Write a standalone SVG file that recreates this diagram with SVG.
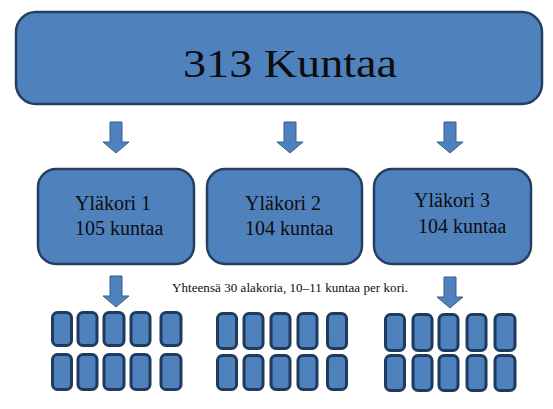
<svg xmlns="http://www.w3.org/2000/svg" width="553" height="409" viewBox="0 0 553 409">
<style>
.box{fill:#4F81BD;stroke:#243F60;stroke-width:2.5}
.sub{fill:#4F81BD;stroke:#1F3A5F;stroke-width:3}
.arr{fill:#4F81BD;stroke:#385D8A;stroke-width:1}
text{font-family:'Liberation Serif','Times New Roman',serif;fill:#0D0D0D}
</style>
<defs>
<path id="arrow" d="M-6,0 H6 V20 H13 L0,31 L-13,20 H-6 Z"/>
</defs>
<rect width="553" height="409" fill="#FFFFFF"/>
<g id="node-top">
<rect class="box" x="16" y="12" width="526" height="92" rx="20"/>
<text x="183" y="77" font-size="41" textLength="214" lengthAdjust="spacingAndGlyphs">313 Kuntaa</text>
</g>
<g id="node-ylakori1">
<rect class="box" x="38" y="169" width="156" height="95" rx="18"/>
<text x="75" y="210" font-size="20">Yläkori 1</text>
<text x="75" y="235" font-size="20">105 kuntaa</text>
</g>
<g id="node-ylakori2">
<rect class="box" x="207" y="169" width="155" height="95" rx="18"/>
<text x="245" y="210" font-size="20">Yläkori 2</text>
<text x="245" y="235" font-size="20">104 kuntaa</text>
</g>
<g id="node-ylakori3">
<rect class="box" x="374" y="169" width="157" height="95" rx="18"/>
<text x="414" y="207" font-size="20">Yläkori 3</text>
<text x="418" y="233" font-size="20">104 kuntaa</text>
</g>
<g id="connectors">
<use href="#arrow" class="arr" x="116" y="122"/>
<use href="#arrow" class="arr" x="290" y="122"/>
<use href="#arrow" class="arr" x="450" y="122"/>
<use href="#arrow" class="arr" x="116" y="276"/>
<use href="#arrow" class="arr" x="450" y="277"/>
</g>
<g id="label-summary">
<text x="172" y="292" font-size="13" textLength="236">Yhteensä 30 alakoria, 10–11 kuntaa per kori.</text>
</g>
<g id="node-alakorit1">
<rect class="sub" x="52.5" y="312.5" width="19" height="33" rx="5"/>
<rect class="sub" x="78" y="312.5" width="19" height="33" rx="5"/>
<rect class="sub" x="104" y="312.5" width="20" height="33" rx="5"/>
<rect class="sub" x="131" y="312.5" width="19" height="33" rx="5"/>
<rect class="sub" x="161" y="312.5" width="20" height="33" rx="5"/>
<rect class="sub" x="52.5" y="354.5" width="19" height="35" rx="5"/>
<rect class="sub" x="78" y="354.5" width="19" height="35" rx="5"/>
<rect class="sub" x="104" y="354.5" width="20" height="35" rx="5"/>
<rect class="sub" x="131" y="354.5" width="19" height="35" rx="5"/>
<rect class="sub" x="161" y="354.5" width="20" height="35" rx="5"/>
</g>
<g id="node-alakorit2">
<rect class="sub" x="217.5" y="313.5" width="19" height="35" rx="5"/>
<rect class="sub" x="244" y="313.5" width="19" height="35" rx="5"/>
<rect class="sub" x="271" y="313.5" width="19" height="35" rx="5"/>
<rect class="sub" x="298" y="313.5" width="19" height="35" rx="5"/>
<rect class="sub" x="327.5" y="313.5" width="19" height="35" rx="5"/>
<rect class="sub" x="217.5" y="355.5" width="19" height="34" rx="5"/>
<rect class="sub" x="244" y="355.5" width="19" height="34" rx="5"/>
<rect class="sub" x="271" y="355.5" width="19" height="34" rx="5"/>
<rect class="sub" x="298" y="355.5" width="19" height="34" rx="5"/>
<rect class="sub" x="327.5" y="355.5" width="19" height="34" rx="5"/>
</g>
<g id="node-alakorit3">
<rect class="sub" x="385.5" y="314.5" width="19" height="36" rx="5"/>
<rect class="sub" x="413" y="314.5" width="19" height="36" rx="5"/>
<rect class="sub" x="439" y="314.5" width="19" height="36" rx="5"/>
<rect class="sub" x="467" y="314.5" width="19" height="36" rx="5"/>
<rect class="sub" x="495" y="314.5" width="20" height="36" rx="5"/>
<rect class="sub" x="385.5" y="355.5" width="19" height="35" rx="5"/>
<rect class="sub" x="413" y="355.5" width="19" height="35" rx="5"/>
<rect class="sub" x="439" y="355.5" width="19" height="35" rx="5"/>
<rect class="sub" x="467" y="355.5" width="19" height="35" rx="5"/>
<rect class="sub" x="495" y="355.5" width="20" height="35" rx="5"/>
</g>
</svg>
